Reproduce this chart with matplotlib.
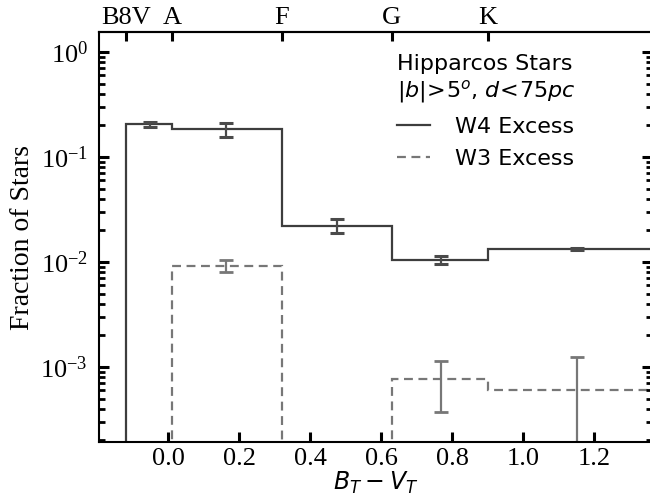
import numpy as np
import matplotlib
matplotlib.use("Agg")
import matplotlib.pyplot as plt
from matplotlib.lines import Line2D
from matplotlib.font_manager import FontProperties

# B_T - V_T bin edges (spectral-type boundaries)
bin_edges = [-0.12, 0.01, 0.32, 0.63, 0.90, 1.40]
spec_types = ["B8V", "A", "F", "G", "K"]
spec_pos = bin_edges[:5]

# Fraction of stars with W4 excess, per bin, and errors
w4_frac = [0.205, 0.183, 0.0222, 0.0105, 0.0133]
w4_err = [0.012, 0.027, 0.0034, 0.0010, 0.0003]
w4_err_x = [-0.05, 0.163, 0.475, 0.768, 1.151]

# Fraction of stars with W3 excess, per bin, and errors
w3_frac = [0.0, 0.0092, 0.0, 0.00076, 0.00061]
w3_err = [0.0, 0.0012, 0.0, 0.00039, 0.00063]
w3_err_x = [-0.05, 0.163, 0.475, 0.768, 1.151]

plt.rcParams["font.family"] = ["Liberation Serif", "DejaVu Serif"]
plt.rcParams["mathtext.fontset"] = "stix"

W4_COLOR = "#3d3d3d"
W3_COLOR = "#777777"
FLOOR = 1e-8

fig = plt.figure(figsize=(6.5, 4.96), dpi=100)
ax = fig.add_axes([99 / 650, 54 / 496, 552.5 / 650, 410 / 496])
ax.set_yscale("log")

w4_plot = np.where(np.array(w4_frac) > 0, w4_frac, FLOOR)
w3_plot = np.where(np.array(w3_frac) > 0, w3_frac, FLOOR)

ax.stairs(w4_plot, bin_edges, baseline=FLOOR, color=W4_COLOR, lw=1.6)
ax.stairs(w3_plot, bin_edges, baseline=FLOOR, color=W3_COLOR, lw=1.6,
          linestyle=(0, (4, 2.5)))

m4 = np.array(w4_frac) > 0
m3 = np.array(w3_frac) > 0
ax.errorbar(np.array(w4_err_x)[m4], np.array(w4_frac)[m4],
            yerr=np.array(w4_err)[m4], fmt="none", ecolor="#4a4a4a",
            elinewidth=1.6, capsize=5, capthick=2.2)
ax.errorbar(np.array(w3_err_x)[m3], np.array(w3_frac)[m3],
            yerr=np.array(w3_err)[m3], fmt="none", ecolor=W3_COLOR,
            elinewidth=1.6, capsize=5, capthick=2.0)

ax.set_xlim(-0.195, 1.362)
ax.set_ylim(1.93e-4, 1.55)

ax.set_xticks([0.0, 0.2, 0.4, 0.6, 0.8, 1.0, 1.2])
ax.xaxis.set_minor_locator(matplotlib.ticker.NullLocator())
ax.tick_params(axis="x", which="major", direction="in", length=7.2, width=2.2,
               top=False, bottom=True, labelsize=19, pad=4)
ax.tick_params(axis="y", which="major", direction="in", length=7.2, width=2.2,
               left=True, right=True, labelsize=19, pad=8)
ax.tick_params(axis="y", which="minor", direction="in", length=4.3, width=2.0,
               left=True, right=True)

for s in ax.spines.values():
    s.set_linewidth(1.5)
ax.spines["right"].set_visible(False)

# spectral types along the top
top = ax.secondary_xaxis("top")
top.set_xticks(spec_pos, labels=spec_types)
top.xaxis.set_minor_locator(matplotlib.ticker.NullLocator())
top.tick_params(direction="in", length=6.8, width=2.2, labelsize=19, pad=2)
top.spines["top"].set_linewidth(1.5)

ax.set_ylabel("Fraction of Stars", fontsize=20, labelpad=4)
ax.set_xlabel(r"$B_T - V_T$", fontproperties=FontProperties(
    family="DejaVu Sans", size=17, math_fontfamily="dejavusans"), labelpad=0)

leg_font = FontProperties(family="DejaVu Sans", size=16,
                          math_fontfamily="dejavusans")
handles = [Line2D([], [], color=W4_COLOR, lw=1.6),
           Line2D([], [], color=W3_COLOR, lw=1.6, linestyle=(0, (4, 2.5)))]
leg = ax.legend(handles, ["W4 Excess", "W3 Excess"],
                title="Hipparcos Stars\n" + r"$|b|\!>\!\mathit{5}^o$, $d\!<\!\mathit{75pc}$",
                title_fontproperties=leg_font, prop=leg_font, frameon=False,
                alignment="left", loc="upper left",
                bbox_to_anchor=(397 / 650, 1 - 54 / 496),
                bbox_transform=fig.transFigure, borderpad=0, borderaxespad=0,
                handlelength=1.5, handletextpad=1.1, labelspacing=0.55)

fig.savefig("out.png", dpi=100)
